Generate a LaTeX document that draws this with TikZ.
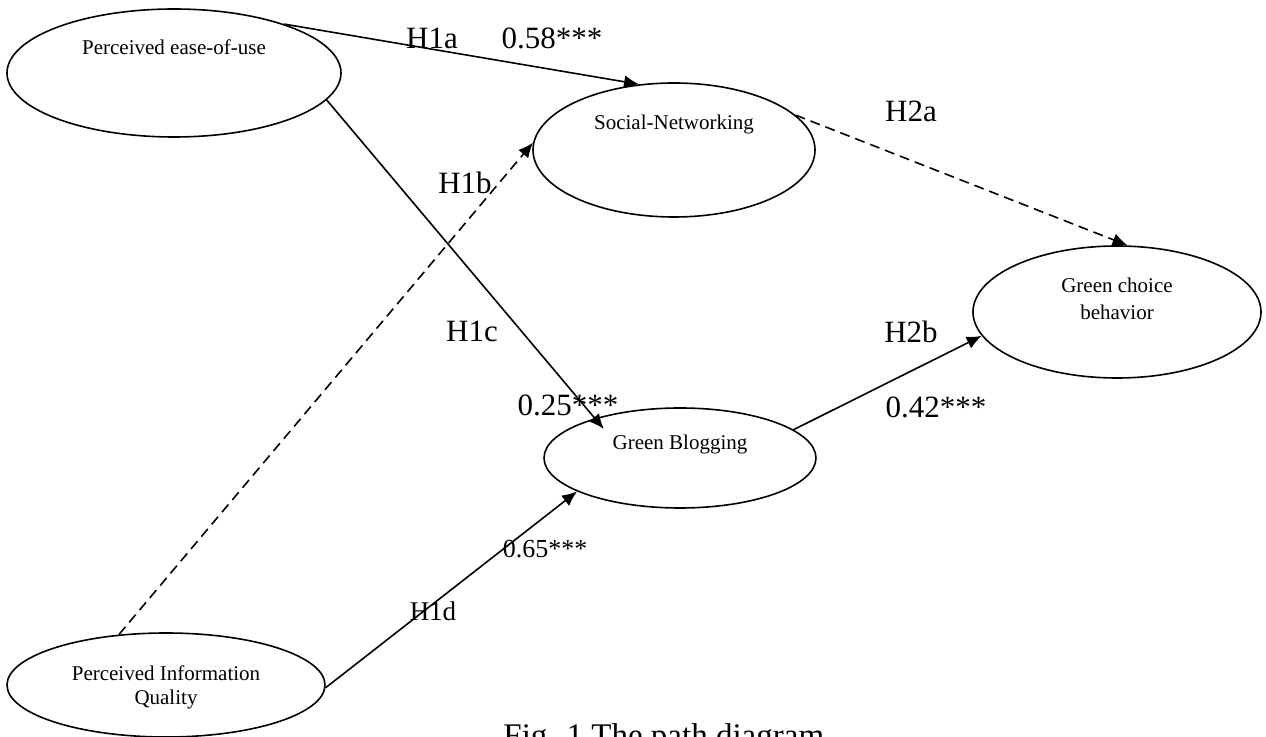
\documentclass[tikz,border=0pt]{standalone}
\usepackage{fontspec}
\setmainfont{Liberation Serif}
\usetikzlibrary{shapes.geometric,arrows.meta}

\tikzset{
	construct/.style={draw, ellipse, line width=0.8pt, inner sep=0pt},
	cname/.style={anchor=base, inner sep=0pt, align=center,
		font=\fontsize{10.5}{13.5}\selectfont},
	effect/.style={->, line width=0.8pt},
	weak/.style={effect, dash pattern=on 5pt off 3pt},
	hyp/.style={inner sep=0pt, font=\fontsize{15.5}{18}\selectfont}
}

\begin{document}
\begin{tikzpicture}[x=0.5pt, y=-0.5pt, >={Latex[length=7.5pt,width=6.5pt]}]
	\useasboundingbox (0,0) rectangle (1266,737);
	% latent constructs
	\node[construct, minimum width=167pt, minimum height=64pt] (peu) at (174,73) {};
	\node[construct, minimum width=141pt, minimum height=67pt] (sn) at (674,150) {};
	\node[construct, minimum width=144pt, minimum height=66pt] (gcb) at (1117,312) {};
	\node[construct, minimum width=136pt, minimum height=50pt] (gb) at (680,458) {};
	\node[construct, minimum width=159pt, minimum height=52pt] (piq) at (166,685) {};
	% their names, set high in the ellipse (base = last line)
	\node[cname] (peuT) at (174,55) {Perceived ease-of-use};
	\node[cname] (snT) at (674,130) {Social-Networking};
	\node[cname] (gcbT) at (1117,320) {Green choice\\behavior};
	\node[cname] (gbT) at (680,450) {Green Blogging};
	\node[cname, font=\fontsize{10.5}{12}\selectfont] (piqT) at (166,705)
		{Perceived Information\\Quality};
	% paths
	\draw[effect] (peu.24) -- (sn.118);
	\draw[effect, shorten >=-7pt] (peu.-10) -- (gb.155);
	\draw[weak] (piq.133) -- (sn.177);
	\draw[effect] (piq.-1) -- (gb.198);
	\draw[weak] (sn.16) -- (gcb.81);
	\draw[effect] (gb.14) -- (gcb.190);
	% hypotheses and coefficients
	\node[hyp] (h1a) at (432,38) {H1a};
	\node[hyp] (c1a) at (552,38) {0.58***};
	\node[hyp] (h1b) at (465,183) {H1b};
	\node[hyp] (h1c) at (472,331) {H1c};
	\node[hyp] (c1c) at (568,405) {0.25***};
	\node[hyp, font=\fontsize{13}{15}\selectfont] (c1d) at (545,549) {0.65***};
	\node[hyp, font=\fontsize{13.5}{15}\selectfont] (h1d) at (433,611) {H1d};
	\node[hyp] (h2a) at (911,111) {H2a};
	\node[hyp] (h2b) at (911,332) {H2b};
	\node[hyp] (c2b) at (936,407) {0.42***};
	\node[anchor=base west, inner sep=0pt, font=\fontsize{16.5}{20}\selectfont]
		(cap) at (503,747) {Fig. 1 The path diagram};
\end{tikzpicture}
\end{document}
